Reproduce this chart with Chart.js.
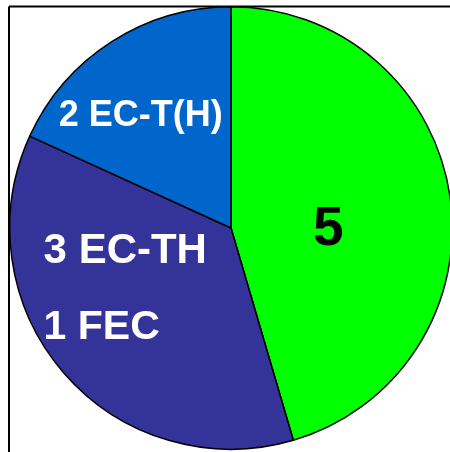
<!DOCTYPE html>
<html>
<head>
<meta charset="utf-8">
<script src="https://cdn.jsdelivr.net/npm/chart.js@4/dist/chart.umd.min.js"></script>
<style>
  html, body { margin: 0; padding: 0; background: #fff; overflow: hidden; }
  #wrap { position: relative; width: 450px; height: 452px; overflow: hidden; }
  canvas { position: absolute; left: 0; top: 0; }
</style>
</head>
<body>
<div id="wrap"><canvas id="c" width="456" height="452"></canvas></div>
<script>
// Slice values (clockwise from 12 o'clock)
const categories = ['5', '3 EC-TH / 1 FEC', '2 EC-T(H)'];
const counts = [5, 4, 2];
const sliceColors = ['#00ff00', '#333399', '#0066cc'];

// Text written inside each slice: [lines], colour, font size, offset from centre (fractions of radius)
const sliceLabels = [
  { lines: ['5'], color: '#000', size: 55, align: 'center', dx: 0.44, dy: 0.077, gap: 0 },
  { lines: ['3 EC-TH'], color: '#fff', size: 42, align: 'left', dx: -0.847, dy: 0.158, gap: 0 },
  { lines: ['1 FEC'], color: '#fff', size: 41, align: 'left', dx: -0.847, dy: 0.50, gap: 0 },
  { lines: ['2 EC-T(H)'], color: '#fff', size: 36, align: 'left', dx: -0.779, dy: -0.459, gap: 0 }
];

// Frame lines along the top and left edges
const framePlugin = {
  id: 'frame',
  afterDraw(chart) {
    const ctx = chart.ctx;
    ctx.save();
    ctx.strokeStyle = '#000';
    ctx.lineWidth = 2;
    ctx.beginPath();
    ctx.moveTo(9, 6.5);
    ctx.lineTo(chart.width, 6.5);
    ctx.moveTo(9, 6.5);
    ctx.lineTo(9, chart.height);
    ctx.stroke();
    ctx.restore();
  }
};

// Slice captions
const labelPlugin = {
  id: 'sliceText',
  afterDatasetsDraw(chart) {
    const ctx = chart.ctx;
    const arc = chart.getDatasetMeta(0).data[0];
    const cx = arc.x, cy = arc.y, r = arc.outerRadius;
    ctx.save();
    sliceLabels.forEach(l => {
      ctx.font = 'bold ' + l.size + 'px "Liberation Sans", Arial, sans-serif';
      ctx.fillStyle = l.color;
      ctx.textAlign = l.align;
      ctx.textBaseline = 'alphabetic';
      l.lines.forEach((t, i) => {
        ctx.fillText(t, cx + l.dx * r, cy + l.dy * r + i * l.gap);
      });
    });
    ctx.restore();
  }
};

new Chart(document.getElementById('c'), {
  type: 'pie',
  data: {
    labels: categories,
    datasets: [{
      data: counts,
      backgroundColor: sliceColors,
      borderColor: '#000',
      borderWidth: 1.5
    }]
  },
  options: {
    responsive: false,
    animation: false,
    layout: { padding: { left: 9, top: 6, right: 3, bottom: 2 } },
    plugins: {
      legend: { display: false },
      tooltip: { enabled: false }
    }
  },
  plugins: [labelPlugin, framePlugin]
});
</script>
</body>
</html>
